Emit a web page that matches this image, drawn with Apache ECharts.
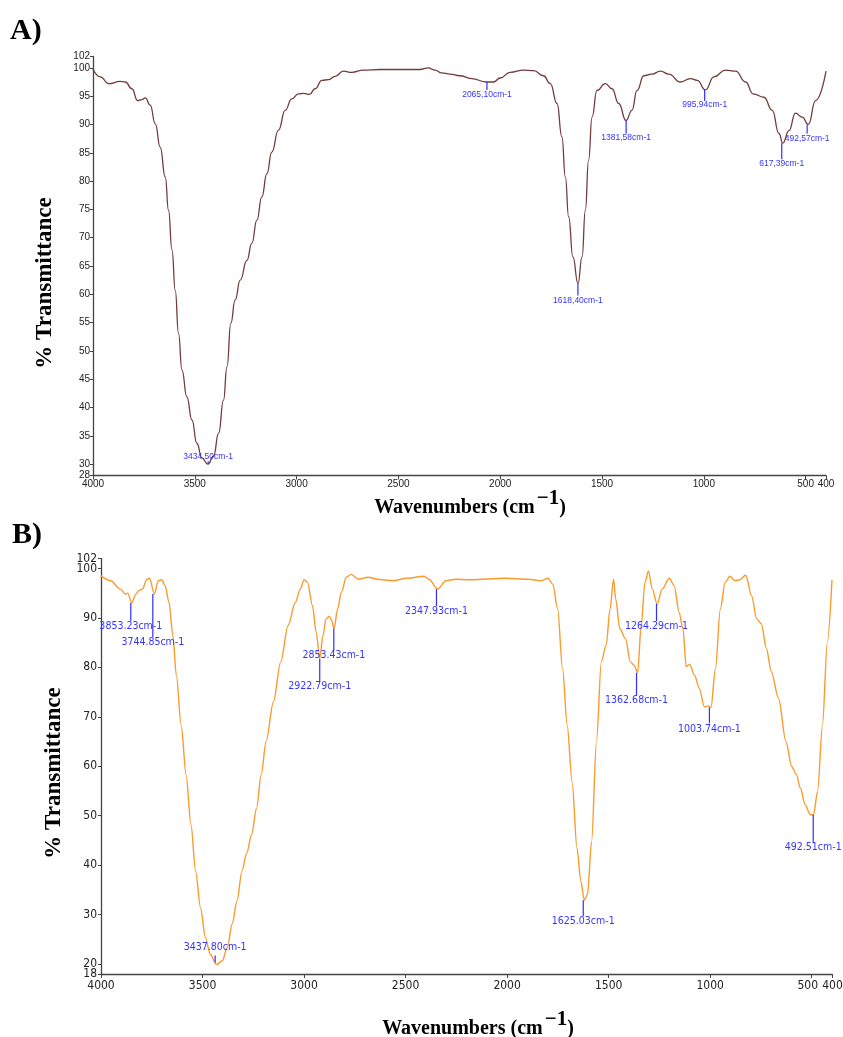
<!DOCTYPE html>
<html><head><meta charset="utf-8">
<script src="https://cdn.jsdelivr.net/npm/echarts@6/dist/echarts.min.js"></script>
<style>html,body{margin:0;padding:0;background:#fff}#c{width:843px;height:1037px}</style>
</head><body><div id="c"></div>
<script>
// ---------- Panel A data ----------
const wavenumbersA = [4000,3964,3923,3866,3841,3809,3781,3760,3743,3719,3694,3670,3645,3629,3612,3596,3580,3563,3539,3514,3490,3465,3436,3408,3383,3359,3342,3323,3302,3277,3244,3220,3195,3171,3146,3122,3089,3056,3024,2991,2966,2937,2909,2876,2844,2811,2770,2729,2672,2590,2427,2394,2353,2320,2288,2247,2198,2140,2069,2033,2000,1951,1885,1836,1787,1754,1721,1697,1680,1664,1643,1618,1598,1582,1566,1549,1525,1484,1451,1418,1382,1353,1328,1295,1254,1213,1172,1115,1066,1033,992,951,894,844,795,758,705,664,631,612,582,550,517,487,451,400];
const transmittanceA = [99.8,98.4,97.2,97.6,97.5,96.3,94.2,94.4,94.7,93.4,90.1,86.0,80.7,74.8,67.8,60.7,53.1,46.6,41.9,37.8,33.7,31.1,30.0,31.4,35.5,41.3,47.2,54.9,59.0,62.5,66.0,69.0,73.1,77.2,81.3,85.1,89.0,92.5,94.5,95.4,95.5,95.3,96.3,97.8,97.9,98.5,99.4,99.2,99.6,99.7,99.7,99.7,100.0,99.6,99.1,98.9,98.6,98.1,97.5,97.5,98.2,99.2,99.6,99.5,98.6,97.2,93.7,87.8,80.7,73.7,66.6,61.9,66.6,74.8,83.7,91.3,96.0,97.2,96.3,93.7,90.7,92.5,96.0,98.6,98.9,99.4,98.9,97.5,98.1,97.8,96.1,98.4,99.6,99.4,97.5,95.4,94.8,92.5,88.4,86.7,88.9,92.0,91.3,90.0,94.2,99.4];
const peakWnA = [3434.50,2065.10,1618.40,1381.58,995.94,617.39,492.57];
const peakTA = [30.0,97.5,61.9,90.7,96.1,86.7,90.0];
const peakLabelsA = ['3434,50cm-1','2065,10cm-1','1618,40cm-1','1381,58cm-1','995,94cm-1','617,39cm-1','492,57cm-1'];
const yTicksA = [28,30,35,40,45,50,55,60,65,70,75,80,85,90,95,100,102];
const xTicksA = [4000,3500,3000,2500,2000,1500,1000,500,400];

// ---------- Panel B data ----------
const wavenumbersB = [4000,3952,3904,3880,3868,3849,3828,3813,3797,3773,3761,3737,3718,3701,3684,3665,3646,3629,3605,3581,3557,3534,3510,3486,3462,3431,3402,3378,3354,3330,3306,3282,3258,3234,3211,3187,3151,3115,3079,3043,3019,3000,2983,2959,2940,2923,2907,2892,2876,2864,2852,2835,2816,2792,2768,2732,2684,2637,2565,2493,2409,2385,2342,2302,2254,2182,2015,1895,1835,1799,1775,1751,1727,1704,1680,1656,1637,1620,1604,1584,1560,1536,1512,1493,1476,1465,1445,1417,1393,1374,1357,1340,1321,1304,1285,1261,1237,1201,1177,1153,1134,1118,1101,1077,1053,1029,1010,996,974,950,926,902,878,854,825,796,771,748,723,699,663,627,598,575,556,532,507,491,471,447,423,400];
const transmittanceB = [98.5,97.5,95.8,94.8,95.0,93.0,94.8,95.5,95.8,97.8,98.0,94.8,97.5,97.7,96.5,93.1,86.4,78.4,68.3,58.3,48.2,38.8,31.4,25.4,22.0,19.9,20.7,23.4,28.1,32.8,38.8,42.5,46.2,51.5,58.3,65.0,73.0,81.1,88.4,93.1,95.8,97.7,97.2,92.5,87.1,81.7,86.4,89.8,90.3,89.5,87.8,91.8,95.2,98.2,98.8,97.8,98.2,97.8,97.5,98.0,98.4,97.8,95.8,97.5,97.8,97.7,98.0,97.8,97.5,98.0,96.8,91.8,79.7,68.3,56.9,43.5,36.8,32.9,34.1,44.8,65.0,81.1,84.5,91.8,97.8,93.8,87.8,85.8,81.1,80.4,78.9,88.4,97.2,99.5,95.8,92.8,95.8,98.0,96.5,91.1,87.8,80.1,80.6,78.4,75.7,72.0,72.2,71.9,79.7,91.8,97.2,98.4,97.5,97.7,98.6,94.5,89.8,88.8,83.8,79.1,73.7,65.0,59.9,58.3,55.6,52.2,50.2,50.2,54.9,68.3,85.1,97.7];
const peakWnB = [3853.23,3744.85,3437.80,2922.79,2853.43,2347.93,1625.03,1362.68,1264.29,1003.74,492.51];
const peakTB = [93.0,94.8,19.9,81.7,87.8,95.8,32.9,78.9,92.8,71.9,50.2];
const peakLabelsB = ['3853.23cm-1','3744.85cm-1','3437.80cm-1','2922.79cm-1','2853.43cm-1','2347.93cm-1','1625.03cm-1','1362.68cm-1','1264.29cm-1','1003.74cm-1','492.51cm-1'];
// B ticks split in two sets so that closely spaced end labels are all drawn
const yTicksB = [20,30,40,50,60,70,80,90,100];
const yTicksBEnds = [18,102];
const xTicksB = [4000,3500,3000,2500,2000,1500,1000,500];
const xTicksBEnds = [400];

// ---------- styling (pixel offsets for peak leaders: [lineStart, lineEnd, textCenter]) ----------
const leadersA = [[0,-3,-8],[0,8,13],[0,12,17],[0,13,17],[0,11,15],[0,16,21],[0,9,14]];
const leadersB = [[0,18,23],[0,43,48],[-2,-9,-17],[0,22,27],[0,22,27],[0,17,22],[0,16,21],[0,23,28],[0,17,22],[0,16,22],[0,28,33]];

function zip(a,b){return a.map((v,i)=>[v,b[i]]);}
function peakData(w,t){return w.map((v,i)=>[v,t[i],i]);}

function peakRender(leaders, labels, font){
  return function(params, api){
    const i = api.value(2);
    const p = api.coord([api.value(0), api.value(1)]);
    const L = leaders[i];
    return {type:'group', children:[
      {type:'line', shape:{x1:p[0], y1:p[1]+L[0], x2:p[0], y2:p[1]+L[1]},
       style:{stroke:'#2f2fff', lineWidth:1.2}},
      {type:'text', x:p[0], y:p[1]+L[2],
       style:{text:labels[i], fill:'#3434ff', font:font, align:'center', verticalAlign:'middle'}}
    ]};
  };
}

const axisCol = '#444';
const plain = v => String(v);
function xAxisCfg(gi, ticks, fs, fam, margin, showLine, fmt, rich){
  return {gridIndex:gi, type:'value', position:'bottom', min:400, max:4000, inverse:true,
    axisLine:{show:showLine, onZero:false, lineStyle:{color:axisCol, width:1.3}},
    axisTick:{show:true, length:4, customValues:ticks, lineStyle:{color:axisCol}},
    axisLabel:{customValues:ticks, formatter:fmt || plain, rich:rich, hideOverlap:false, fontSize:fs, fontFamily:fam, color:'#222', margin:margin, showMinLabel:true, showMaxLabel:true},
    splitLine:{show:false}};
}
function yAxisCfg(gi, ticks, min, max, fs, fam, margin, showLine){
  return {gridIndex:gi, type:'value', position:'left', min:min, max:max,
    axisLine:{show:showLine, onZero:false, lineStyle:{color:axisCol, width:1.3}},
    axisTick:{show:true, length:3, customValues:ticks, lineStyle:{color:axisCol}},
    axisLabel:{customValues:ticks, formatter:plain, hideOverlap:false, fontSize:fs, fontFamily:fam, color:'#222', margin:margin, showMinLabel:true, showMaxLabel:true},
    splitLine:{show:false}};
}

const serif = '"Liberation Serif", "Times New Roman", serif';
const sansA = '"Liberation Sans", Arial, sans-serif';
const sansB = '"DejaVu Sans Condensed", "Liberation Sans Narrow", "Liberation Sans", sans-serif';
const richB = {
  l:{fontSize:12, fontFamily:sansB, color:'#222', padding:[0,8,0,0]},
  r:{fontSize:12, fontFamily:sansB, color:'#222', padding:[0,0,0,1]}
};
const fmtB = v => v === 500 ? '{l|500}' : String(v);
const fmtBEnd = v => '{r|' + v + '}';

function wavTitle(x, y){
  return {type:'text', x:x, y:y, style:{
    text:'{a|Wavenumbers (cm}{b|−1}{a|)}',
    rich:{a:{font:'bold 20px '+serif, fill:'#000', verticalAlign:'bottom'},
          b:{font:'bold 21px '+serif, fill:'#000', verticalAlign:'bottom', padding:[0,0,9,2]}},
    align:'center', verticalAlign:'middle'}};
}
function yTitle(x, y){
  return {type:'text', x:x, y:y, rotation:Math.PI/2, style:{
    text:'% Transmittance', font:'bold 23px '+serif, fill:'#000', align:'center', verticalAlign:'middle'}};
}

const chart = echarts.init(document.getElementById('c'), null, {renderer:'canvas'});
chart.setOption({
  animation:false,
  backgroundColor:'#fff',
  grid:[
    {left:93, top:56.5, width:733, height:419, containLabel:false, outerBoundsMode:'none'},
    {left:101, top:558.5, width:731, height:415.5, containLabel:false, outerBoundsMode:'none'}
  ],
  xAxis:[
    xAxisCfg(0, xTicksA, 10, sansA, 4, true),
    xAxisCfg(1, xTicksB, 12, sansB, 6, true, fmtB, richB),
    xAxisCfg(1, xTicksBEnds, 12, sansB, 6, false, fmtBEnd, richB)
  ],
  yAxis:[
    yAxisCfg(0, yTicksA, 28, 102, 10, sansA, 3, true),
    yAxisCfg(1, yTicksB, 18, 102, 12, sansB, 4, true),
    yAxisCfg(1, yTicksBEnds, 18, 102, 12, sansB, 4, false)
  ],
  series:[
    {type:'line', xAxisIndex:0, yAxisIndex:0, data:zip(wavenumbersA, transmittanceA),
     showSymbol:false, smooth:0.5, smoothMonotone:'x', lineStyle:{color:'#743b3b', width:1.3}},
    {type:'line', xAxisIndex:1, yAxisIndex:1, data:zip(wavenumbersB, transmittanceB),
     showSymbol:false, smooth:0.3, smoothMonotone:'x', lineStyle:{color:'#fb9a2d', width:1.4}},
    {type:'custom', xAxisIndex:0, yAxisIndex:0, data:peakData(peakWnA, peakTA), clip:false,
     encode:{x:0, y:1}, renderItem:peakRender(leadersA, peakLabelsA, '8.5px "Liberation Sans", Arial, sans-serif'), z:5},
    {type:'custom', xAxisIndex:1, yAxisIndex:1, data:peakData(peakWnB, peakTB), clip:false,
     encode:{x:0, y:1}, renderItem:peakRender(leadersB, peakLabelsB, '10.5px "DejaVu Sans Condensed", "Liberation Sans", sans-serif'), z:5}
  ],
  graphic:[
    {type:'text', x:10, y:31, style:{text:'A)', font:'bold 30px '+serif, fill:'#000', verticalAlign:'middle'}},
    {type:'text', x:12, y:535, style:{text:'B)', font:'bold 30px '+serif, fill:'#000', verticalAlign:'middle'}},
    yTitle(45, 283),
    yTitle(54, 773),
    wavTitle(470, 503),
    wavTitle(478, 1024)
  ]
});
</script>
</body></html>
